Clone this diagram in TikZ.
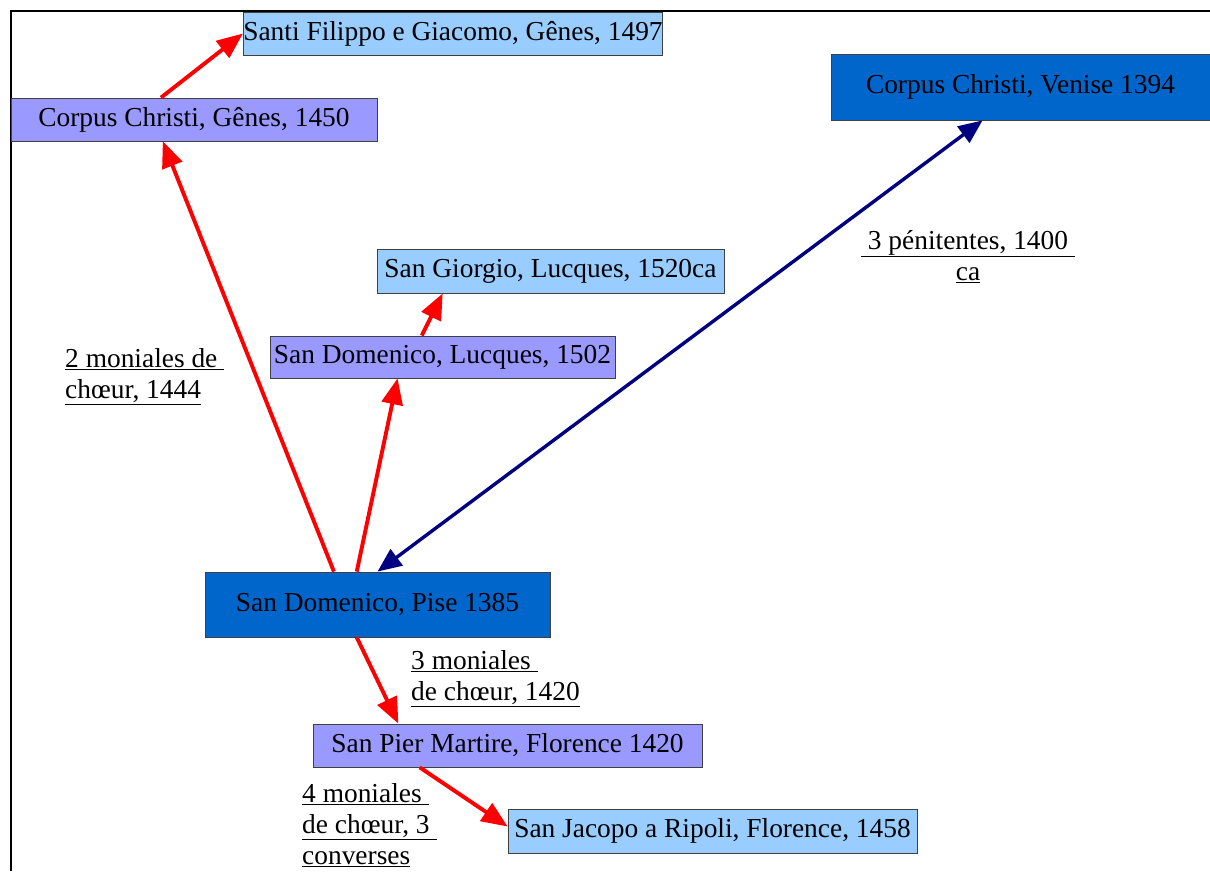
\documentclass[tikz,border=0pt]{standalone}
\usepackage{fontspec}
\setmainfont{Liberation Serif}
\usetikzlibrary{arrows.meta, positioning, calc}

\definecolor{lavbox}{HTML}{9999FF}
\definecolor{skybox}{HTML}{99CCFF}
\definecolor{deepbox}{HTML}{0066CC}
\definecolor{navyline}{HTML}{000080}

\begin{document}
\begin{tikzpicture}[
			x=1pt, y=-1pt,
			convent/.style={rectangle, draw=black!75, line width=0.8pt, inner sep=0pt, font=\fontsize{27.4}{30}\selectfont},
			founder/.style={convent, fill=deepbox},
			daughter/.style={convent, fill=lavbox},
			granddaughter/.style={convent, fill=skybox},
			redarrow/.style={-{Triangle[length=26pt, width=21pt]}, line width=3.9pt, red},
			bluearrow/.style={{Triangle[length=24pt, width=20pt]}-{Triangle[length=24pt, width=20pt]}, line width=3.4pt, navyline},
			note/.style={inner sep=0pt, align=left, font=\fontsize{27.4}{31}\selectfont}
		]
		
		\useasboundingbox (0,0) rectangle (1210,871);
		
		% Frame
		\draw[line width=2pt] (11,871) -- (11,11) -- (1210,11);
		
		% Convents
		\node[founder, minimum width=345pt, minimum height=65pt] (pise) at (377.5,604.5) {San Domenico, Pise 1385};
		\node[founder, minimum width=379pt, minimum height=66pt] (venise) at (1020.5,87) {Corpus Christi, Venise 1394};
		\node[daughter, minimum width=366pt, minimum height=43pt] (genes) at (194,119.5) {Corpus Christi, Gênes, 1450};
		\node[granddaughter, minimum width=410pt, minimum height=43pt] (filippo) at (453,33.5) {Santi Filippo e Giacomo, Gênes, 1497};
		\node[daughter, minimum width=345pt, minimum height=42pt] (lucques) at (442.5,357) {San Domenico, Lucques, 1502};
		\node[granddaughter, minimum width=347pt, minimum height=44pt] (giorgio) at (550.5,271) {San Giorgio, Lucques, 1520ca};
		\node[daughter, minimum width=389pt, minimum height=43pt] (pier) at (507.5,745.5) {San Pier Martire, Florence 1420};
		\node[granddaughter, minimum width=409pt, minimum height=44pt] (jacopo) at (712.5,831) {San Jacopo a Ripoli, Florence, 1458};
		
		% Notes
		\node[note, anchor=north west] (n1444) at (65,348) {\underline{2 moniales de\ }\\\underline{chœur, 1444}};
		\node[note, anchor=north, align=center] (n1400) at (968,230) {\underline{\ 3 pénitentes, 1400\ }\\\underline{ca}};
		\node[note, anchor=north west] (n1420) at (411,650) {\underline{3 moniales\ }\\\underline{de chœur, 1420}};
		\node[note, anchor=north west] (nconv) at (302,783) {\underline{4 moniales\ }\\\underline{de chœur, 3\ }\\\underline{converses}};
		
		% Foundations
		\draw[bluearrow] (pise.north) -- ($(venise.south west)!0.4!(venise.south east)$);
		\draw[redarrow] ($(pise.north west)!0.374!(pise.north east)$) -- ($(genes.south west)!0.415!(genes.south east)$);
		\draw[redarrow] ($(genes.north west)!0.41!(genes.north east)$) -- (filippo.west);
		\draw[redarrow] ($(pise.north west)!0.44!(pise.north east)$) -- ($(lucques.south west)!0.37!(lucques.south east)$);
		\draw[redarrow] ($(lucques.north west)!0.44!(lucques.north east)$) -- ($(giorgio.south west)!0.19!(giorgio.south east)$);
		\draw[redarrow] ($(pise.south west)!0.44!(pise.south east)$) -- ($(pier.north west)!0.22!(pier.north east)$);
		\draw[redarrow] ($(pier.south west)!0.275!(pier.south east)$) -- ($(jacopo.north west)!0.4!(jacopo.south west)$);
		
		\end{tikzpicture}
\end{document}
